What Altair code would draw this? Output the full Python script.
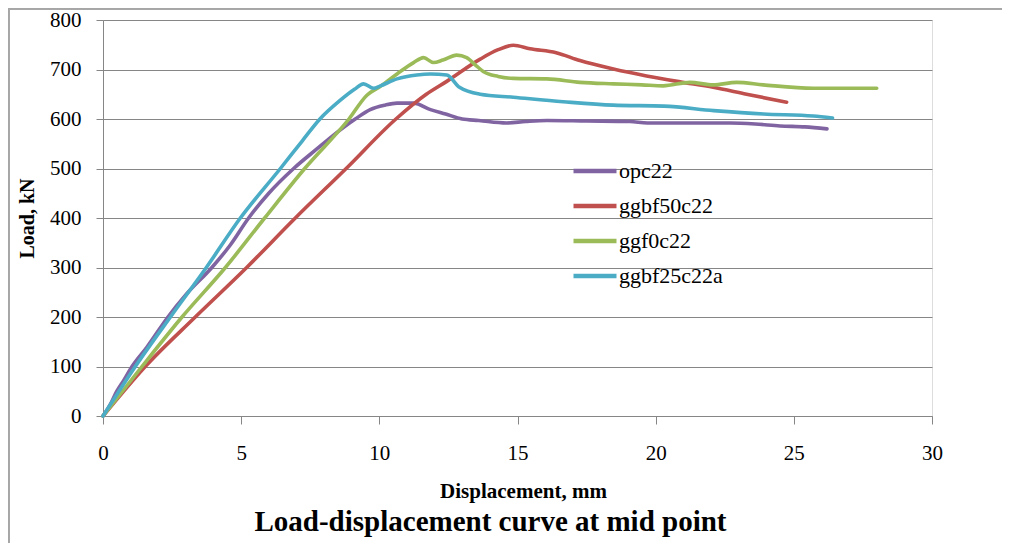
import altair as alt
import pandas as pd

series_names = ["opc22", "ggbf50c22", "ggf0c22", "ggbf25c22a"]
series_colors = ["#8064A2", "#C0504D", "#9BBB59", "#4BACC6"]

opc22_x = [0, 0.25, 0.5, 0.75, 1.05, 1.6, 2.35, 3.0, 3.94, 4.6, 5.27, 6.0, 6.9, 7.75, 8.4,
           9.13, 9.67, 10.2, 10.64, 11.24, 11.85, 12.4, 13.0, 13.6, 14.6, 15.3, 16.06, 17.5,
           19.07, 19.7, 21.0, 22.7, 23.6, 24.5, 25.4, 26.2]
opc22_y = [0, 22, 50, 72, 100, 140, 200, 245, 300, 345, 400, 450, 500, 540, 570,
           600, 619, 628, 632, 632, 619, 610, 600, 597, 592, 595, 597, 596,
           595, 592, 592, 592, 590, 586, 584, 580]

ggbf50_x = [0, 1.53, 3.34, 5.2, 6.96, 8.8, 10.6, 11.7, 12.44, 13.65, 14.3, 14.85, 15.45,
            16.4, 17.26, 18.47, 19.67, 20.88, 22.08, 23.29, 24.74]
ggbf50_y = [0, 100, 200, 300, 400, 500, 600, 650, 676, 721, 740, 749, 742,
            734, 718, 701, 687, 675, 664, 650, 634]

ggf0_x = [0, 1.41, 2.86, 4.43, 5.85, 7.3, 8.9, 9.55, 10.04, 10.64, 11.24, 11.6, 11.96, 12.3,
          12.8, 13.16, 13.5, 13.76, 14.3, 14.85, 16.06, 17.26, 18.47, 19.5, 20.27, 21.24,
          22.08, 22.93, 23.89, 25.7, 28.0]
ggf0_y = [0, 100, 200, 300, 400, 500, 600, 648, 666, 691, 714, 724, 714, 719,
          729, 724, 708, 696, 686, 682, 681, 674, 671, 669, 667, 674,
          669, 674, 669, 662, 662]

ggbf25_x = [0, 1.17, 2.44, 3.74, 4.97, 6.42, 7.2, 7.85, 8.59, 9.1, 9.43, 9.79, 10.04, 10.64,
            11.36, 11.85, 12.44, 12.9, 13.65, 14.85, 16.65, 18.46, 20.3, 22.1, 23.9, 25.7, 26.4]
ggbf25_y = [0, 100, 200, 300, 400, 500, 555, 600, 638, 660, 671, 662, 667, 681,
            689, 691, 689, 664, 650, 644, 635, 628, 626, 617, 610, 606, 602]

x_ticks = [0, 5, 10, 15, 20, 25, 30]
y_ticks = [0, 100, 200, 300, 400, 500, 600, 700, 800]

rows = []
for name, xs, ys in [("opc22", opc22_x, opc22_y), ("ggbf50c22", ggbf50_x, ggbf50_y),
                     ("ggf0c22", ggf0_x, ggf0_y), ("ggbf25c22a", ggbf25_x, ggbf25_y)]:
    for i, (xv, yv) in enumerate(zip(xs, ys)):
        rows.append({"series": name, "disp": xv, "load": yv, "idx": i})
df = pd.DataFrame(rows)

FONT = "Liberation Serif"
GRAY = "#868686"

lines = alt.Chart(df).mark_line(strokeWidth=3.6, strokeJoin="round", strokeCap="round",
                                interpolate="monotone").encode(
    x=alt.X("disp:Q", scale=alt.Scale(domain=[0, 30], nice=False),
            axis=alt.Axis(values=x_ticks, title="Displacement, mm", grid=False,
                          tickSize=8, tickColor=GRAY, domainColor=GRAY,
                          labelFont=FONT, labelFontSize=21, labelColor="black",
                          labelPadding=18, labelFlush=False,
                          titleFont=FONT, titleFontSize=21, titleFontWeight="bold",
                          titleColor="black", titleX=420, titleY=75,
                          titleBaseline="middle")),
    y=alt.Y("load:Q", scale=alt.Scale(domain=[0, 800], nice=False),
            axis=alt.Axis(values=y_ticks, title="Load, kN", grid=True, gridColor=GRAY,
                          gridWidth=1, tickSize=7, tickColor=GRAY, domainColor=GRAY,
                          labelFont=FONT, labelFontSize=21, labelColor="black",
                          labelPadding=15, labelFlush=False,
                          titleFont=FONT, titleFontSize=20, titleFontWeight="bold",
                          titleColor="black", titleX=-76, titleY=198,
                          titleAlign="center", titleBaseline="middle", titleAngle=-90)),
    color=alt.Color("series:N", scale=alt.Scale(domain=series_names, range=series_colors),
                    legend=alt.Legend(title=None, orient="none", legendX=468, legendY=127,
                                      symbolType="stroke", symbolSize=1849,
                                      symbolStrokeWidth=4.5, labelFont=FONT,
                                      labelFontSize=22, labelColor="black",
                                      labelOffset=0, rowPadding=-10, padding=0)),
    order=alt.Order("idx:Q"),
)

frame_left = alt.Chart(df).mark_rule(color="#A6A6A6", strokeWidth=1.5).encode(
    x=alt.value(-94.5), y=alt.value(-12), y2=alt.value(533))
frame_top = alt.Chart(df).mark_rule(color="#A6A6A6", strokeWidth=1.5).encode(
    x=alt.value(-94.5), x2=alt.value(900), y=alt.value(-11.5))

chart = alt.layer(frame_left, frame_top, lines).properties(
    width=829, height=396,
    autosize=alt.AutoSizeParams(type="none"),
    padding={"left": 95, "top": 12, "right": 70, "bottom": 127},
    title=alt.TitleParams("Load-displacement curve at mid point", orient="bottom",
                          anchor="middle", font=FONT, fontSize=29, fontWeight="bold",
                          color="black", offset=0, dy=-46, dx=-27),
).configure_view(stroke=None).configure(background="white")

chart.save("out.html", embed_options={"renderer": "svg", "actions": False})
